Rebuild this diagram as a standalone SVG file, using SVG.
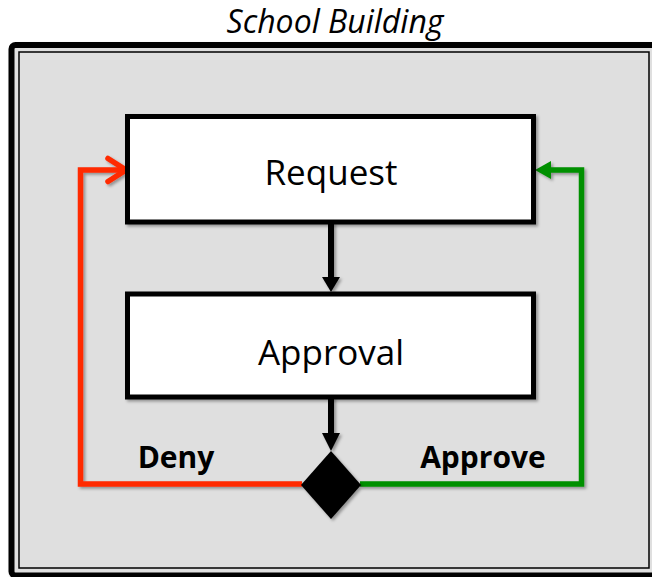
<svg xmlns="http://www.w3.org/2000/svg" width="652" height="577" viewBox="0 0 652 577">
<defs>
<style>
.t{font-family:"Open Sans","Liberation Sans",sans-serif;fill:#000;text-anchor:middle}
.box{fill:#fff;stroke:#000;stroke-width:5}
.ln{fill:none;stroke-width:5.5;stroke-linejoin:miter}
</style>
<filter id="sh" x="-10%" y="-10%" width="130%" height="130%">
<feDropShadow dx="2" dy="2" stdDeviation="1.5" flood-color="#000" flood-opacity="0.35"/>
</filter>
</defs>
<rect width="652" height="577" fill="#fff"/>
<text class="t" x="335" y="33" font-size="32" font-style="italic">School Building</text>
<g id="frame">
<rect x="11.5" y="45" width="646" height="530.5" rx="4" fill="#dfdfdf" stroke="#000" stroke-width="6" filter="url(#sh)"/>
<rect x="19" y="52" width="630" height="516" fill="none" stroke="#000" stroke-width="1.5"/>
</g>
<g id="connectors">
<g filter="url(#sh)">
<line x1="331" y1="222" x2="331" y2="278" stroke="#000" stroke-width="6"/>
<polygon points="322,277 340,277 331,292" fill="#000"/>
<line x1="331" y1="397" x2="331" y2="434" stroke="#000" stroke-width="6"/>
<polygon points="322,433 340,433 331,451" fill="#000"/>
<polyline class="ln" stroke="#ff2a00" points="302,484 80.5,484 80.5,170 124,170"/>
<polyline class="ln" stroke="#ff2a00" stroke-linecap="round" stroke-linejoin="round" points="108,158.5 126,170 108,181.5"/>
<polyline class="ln" stroke="#009000" points="360,484 581.5,484 581.5,170 548,170"/>
<polygon points="535,170 551,161 551,179" fill="#009000"/>
</g>
<text class="t" x="176" y="468" font-size="30" font-weight="bold">Deny</text>
<text class="t" x="483" y="468" font-size="30" font-weight="bold">Approve</text>
</g>
<g id="request">
<rect class="box" x="127.5" y="116.5" width="406" height="105.5" filter="url(#sh)"/>
<text class="t" x="331" y="185" font-size="35">Request</text>
</g>
<g id="approval">
<rect class="box" x="127.5" y="294" width="406" height="103" filter="url(#sh)"/>
<text class="t" x="331" y="365" font-size="35">Approval</text>
</g>
<g id="decision">
<polygon points="331,451 361,485 331,519 301,485" fill="#000" filter="url(#sh)"/>
</g>
</svg>
